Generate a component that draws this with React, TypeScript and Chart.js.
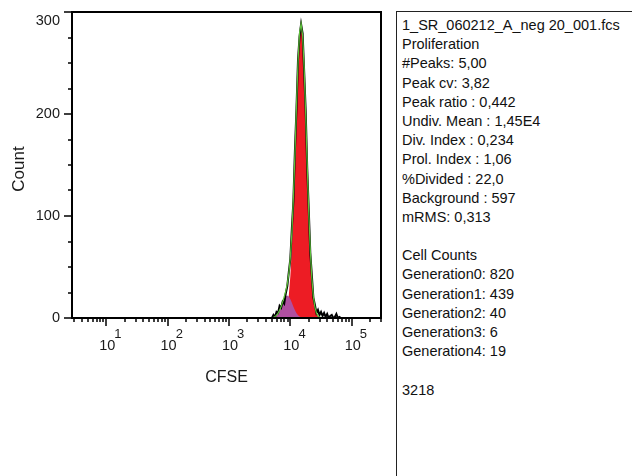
import React, { useEffect, useRef } from "react";
import { Chart, registerables } from "chart.js";

Chart.register(...registerables);

// CFSE channel bins (log spaced, 3.70 .. 4.85 decades)
const cfseBins = [
  5012, 5309, 5623, 5957, 6310, 6683, 7079, 7499, 7943, 8414, 8913, 9441,
  10000, 10593, 11220, 11885, 12589, 13335, 14125, 14962, 15849, 16788, 17783,
  18836, 19953, 21135, 22387, 23714, 25119, 26607, 28184, 29854, 31623, 33497,
  35481, 37584, 39811, 42170, 44668, 47315, 50119, 53088, 56234, 59566, 63096,
  66834, 70795,
];

// raw histogram (black)
const rawCounts = [
  0, 3, 1, 6, 5, 12, 10, 16, 14, 24, 31, 45, 58, 88, 115, 165, 205, 253, 276,
  288, 279, 242, 203, 147, 106, 64, 42, 20, 13, 5, 8, 3, 6, 2, 5, 1, 4, 0, 2, 3,
  0, 1, 4, 0, 1, 0, 0,
];

// model fit (green)
const fitCounts = [
  0.3, 0.7, 1.4, 2.6, 4.6, 7.5, 11.3, 15.8, 20.8, 26.4, 33.4, 43.6, 59.6, 84.1,
  118.4, 161.5, 208.2, 250.9, 279.8, 288.7, 276.9, 245.1, 199.7, 150.1, 104.0,
  66.6, 39.2, 21.4, 10.7, 5.0, 2.1, 0.8, 0.3, 0, 0, 0, 0, 0, 0, 0, 0, 0, 0, 0,
  0, 0, 0,
];

// Generation 0 (red)
const gen0Counts = [
  0, 0, 0, 0, 0, 0, 0.3, 0.9, 2.3, 5.3, 11.4, 22.5, 41.1, 69.2, 107.4, 154.0,
  203.6, 248.3, 278.4, 288.0, 276.6, 245.1, 199.7, 150.1, 104.0, 66.6, 39.2,
  21.4, 10.7, 5.0, 2.1, 0.8, 0.3, 0, 0, 0, 0, 0, 0, 0, 0, 0, 0, 0, 0, 0, 0,
];

// Generation 1 (purple)
const gen1Counts = [
  0.3, 0.7, 1.4, 2.6, 4.6, 7.5, 11.0, 14.9, 18.5, 21.1, 22.0, 21.1, 18.5, 14.9,
  11.0, 7.5, 4.6, 2.6, 1.4, 0.7, 0.3, 0, 0, 0, 0, 0, 0, 0, 0, 0, 0, 0, 0, 0, 0,
  0, 0, 0, 0, 0, 0, 0, 0, 0, 0, 0, 0,
];

const xMin = 2.77;
const xMax = 300000;
const yMin = 0;
const yMax = 300;
const yTickValues = [0, 100, 200, 300];
const yMinorTicks = [25, 50, 75, 125, 150, 175, 225, 250, 275];
const xDecades = [1, 10, 100, 1000, 10000, 100000];
const xMinorMultipliers = [2, 3, 4, 5, 6, 7, 8, 9];
const xLabelValues = [10, 100, 1000, 10000, 100000];
const xLabelExponents = ["1", "2", "3", "4", "5"];

const statsLines = [
  "1_SR_060212_A_neg 20_001.fcs",
  "Proliferation",
  "#Peaks: 5,00",
  "Peak cv: 3,82",
  "Peak ratio : 0,442",
  "Undiv. Mean : 1,45E4",
  "Div. Index : 0,234",
  "Prol. Index : 1,06",
  "%Divided : 22,0",
  "Background : 597",
  "mRMS: 0,313",
];
const cellCountLines = [
  "Cell Counts",
  "Generation0: 820",
  "Generation1: 439",
  "Generation2: 40",
  "Generation3: 6",
  "Generation4: 19",
];
const totalLine = "3218";

const FONT = "'Liberation Sans', Arial, Helvetica, sans-serif";

const framePlugin = {
  id: "frame",
  afterDraw(chart: any) {
    const { ctx, chartArea: a, scales } = chart;
    const xs = scales.x;
    const ys = scales.y;
    ctx.save();
    ctx.strokeStyle = "#000";
    ctx.lineWidth = 2;
    ctx.strokeRect(a.left, a.top, a.right - a.left, a.bottom - a.top);

    // y ticks
    ctx.lineWidth = 1.5;
    ctx.beginPath();
    yTickValues.forEach((v) => {
      const y = Math.round(ys.getPixelForValue(v));
      ctx.moveTo(a.left - 8, y);
      ctx.lineTo(a.left, y);
    });
    yMinorTicks.forEach((v) => {
      const y = Math.round(ys.getPixelForValue(v));
      ctx.moveTo(a.left - 4, y);
      ctx.lineTo(a.left, y);
    });
    // x ticks
    xDecades.forEach((d) => {
      if (d >= xMin && d <= xMax) {
        const x = Math.round(xs.getPixelForValue(d));
        ctx.moveTo(x, a.bottom);
        ctx.lineTo(x, a.bottom + 8);
      }
      xMinorMultipliers.forEach((m) => {
        const v = d * m;
        if (v >= xMin && v <= xMax) {
          const x = Math.round(xs.getPixelForValue(v));
          ctx.moveTo(x, a.bottom);
          ctx.lineTo(x, a.bottom + 4);
        }
      });
    });
    ctx.stroke();

    ctx.fillStyle = "#1a1a1a";
    // y labels
    ctx.font = `14.5px ${FONT}`;
    ctx.textAlign = "right";
    ctx.textBaseline = "middle";
    yTickValues.forEach((v) => {
      const y = Math.max(ys.getPixelForValue(v), a.top + 9);
      ctx.fillText(String(v), a.left - 12, y);
    });

    // x labels: 10^n
    xLabelValues.forEach((v, i) => {
      const x = xs.getPixelForValue(v) + 1;
      ctx.font = `14.5px ${FONT}`;
      ctx.textAlign = "center";
      ctx.textBaseline = "alphabetic";
      ctx.fillText("10", x, a.bottom + 32);
      const w = ctx.measureText("10").width;
      ctx.font = `13px ${FONT}`;
      ctx.textAlign = "left";
      ctx.fillText(xLabelExponents[i], x + w / 2 - 1, a.bottom + 20);
    });

    // axis titles
    ctx.font = `16px ${FONT}`;
    ctx.textAlign = "center";
    ctx.textBaseline = "alphabetic";
    ctx.fillText("CFSE", (a.left + a.right) / 2, a.bottom + 64);
    ctx.save();
    ctx.font = `17px ${FONT}`;
    ctx.translate(24, 169);
    ctx.rotate(-Math.PI / 2);
    ctx.fillText("Count", 0, 0);
    ctx.restore();
    ctx.restore();
  },
};

export default function App() {
  const ref = useRef<HTMLCanvasElement>(null);
  useEffect(() => {
    const canvas = ref.current as HTMLCanvasElement;
    const pts = (ys: number[]) => cfseBins.map((x, i) => ({ x, y: ys[i] }));
    const chart = new Chart(canvas, {
      type: "line",
      data: {
        datasets: [
          {
            label: "Fit",
            data: pts(fitCounts),
            borderColor: "#5cc13a",
            borderWidth: 1.2,
            pointRadius: 0,
            fill: false,
          },
          {
            label: "Data",
            data: pts(rawCounts),
            borderColor: "#000",
            borderWidth: 2,
            pointRadius: 0,
            fill: false,
          },
          {
            label: "Generation1",
            data: pts(gen1Counts),
            borderColor: "rgba(0,0,0,0)",
            borderWidth: 0,
            backgroundColor: "#b04fa0",
            pointRadius: 0,
            fill: "origin",
          },
          {
            label: "Generation0",
            data: pts(gen0Counts),
            borderColor: "rgba(0,0,0,0)",
            borderWidth: 0,
            backgroundColor: "#ed1c24",
            pointRadius: 0,
            fill: "origin",
          },
        ],
      },
      options: {
        responsive: false,
        animation: false,
        layout: { padding: { top: 12, right: 3, left: 0, bottom: 0 } },
        plugins: { legend: { display: false }, tooltip: { enabled: false } },
        scales: {
          x: {
            type: "logarithmic",
            min: xMin,
            max: xMax,
            grid: { display: false },
            border: { display: false },
            ticks: { display: false },
            afterFit: (s: any) => {
              s.height = 72;
            },
          },
          y: {
            type: "linear",
            min: yMin,
            max: yMax,
            grid: { display: false },
            border: { display: false },
            ticks: { display: false },
            afterFit: (s: any) => {
              s.width = 72;
            },
          },
        },
      } as any,
      plugins: [framePlugin],
    });
    return () => chart.destroy();
  }, []);

  const lineStyle: React.CSSProperties = { height: "19.2px", whiteSpace: "nowrap" };

  return (
    <div
      style={{
        position: "fixed",
        left: 0,
        top: 0,
        width: 632,
        height: 476,
        background: "#fff",
        overflow: "hidden",
      }}
    >
      <canvas
        ref={ref}
        width={384}
        height={390}
        style={{ position: "absolute", left: 0, top: 0, width: 384, height: 390 }}
      />
      <div
        style={{
          position: "absolute",
          left: 396,
          top: 11,
          right: 0,
          bottom: 0,
          borderLeft: "1px solid #222",
          borderTop: "1px solid #222",
          padding: "4px 0 0 5px",
          fontFamily: FONT,
          fontSize: "14.5px",
          lineHeight: "19.2px",
          color: "#111",
        }}
      >
        {statsLines.map((t, i) => (
          <div key={"s" + i} style={lineStyle}>
            {t}
          </div>
        ))}
        <div style={lineStyle}>&nbsp;</div>
        {cellCountLines.map((t, i) => (
          <div key={"c" + i} style={lineStyle}>
            {t}
          </div>
        ))}
        <div style={lineStyle}>&nbsp;</div>
        <div style={lineStyle}>{totalLine}</div>
      </div>
    </div>
  );
}
